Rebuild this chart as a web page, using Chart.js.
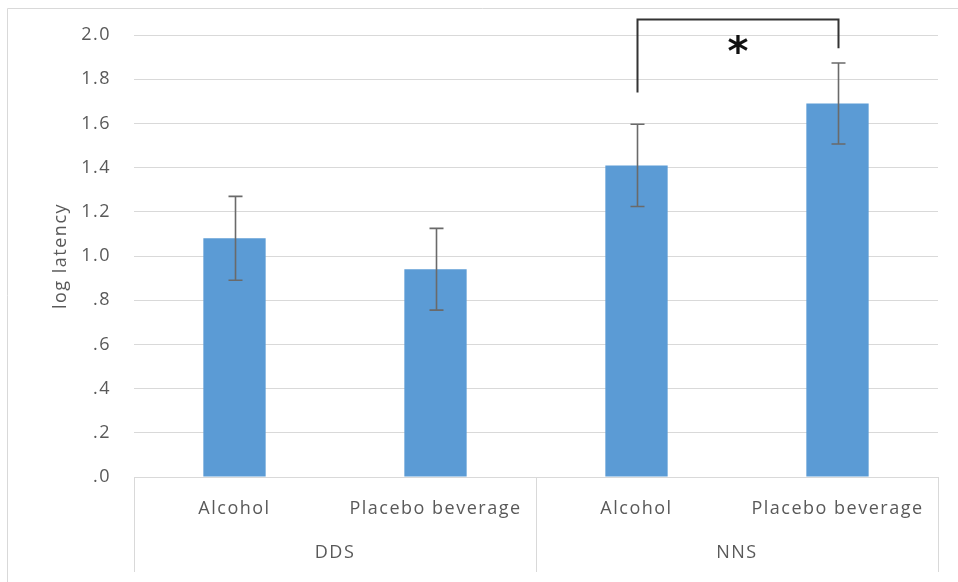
<!DOCTYPE html>
<html>
<head>
<meta charset="utf-8">
<script src="https://cdn.jsdelivr.net/npm/chart.js@4.4.1/dist/chart.umd.min.js"></script>
<style>
  html, body { margin: 0; padding: 0; background: #fff; }
  #wrap { width: 958px; height: 582px; }
</style>
</head>
<body>
<div id="wrap"><canvas id="latencyChart" width="958" height="582"></canvas></div>
<script>
const groupLabels = ['DDS', 'NNS'];
const conditionLabels = ['Alcohol', 'Placebo beverage', 'Alcohol', 'Placebo beverage'];
const meanLatency = [1.08, 0.94, 1.41, 1.69];
const errLatency = [0.19, 0.185, 0.186, 0.183];

// significance bracket between the two NNS bars
const sigPair = [2, 3];
const sigLegEnds = [1.74, 1.94];
const sigTop = 2.07;
const sigLabel = '*';

const textGrey = '#595959';
const gridGrey = '#d9d9d9';
const labelFont = { family: "'Open Sans', sans-serif", size: 18 };

const ctx = document.getElementById('latencyChart').getContext('2d');

const spacing = chart => { chart.ctx.letterSpacing = '1.5px'; };

const decorations = {
  id: 'decorations',
  beforeLayout: spacing,
  beforeDraw: chart => {
    const c = chart.ctx;
    spacing(chart);
    c.save();
    c.strokeStyle = gridGrey;
    c.lineWidth = 1;
    c.beginPath();
    c.moveTo(7.5, chart.height);
    c.lineTo(7.5, 8.5);
    c.lineTo(chart.width, 8.5);
    c.stroke();
    c.restore();
  },
  afterDatasetsDraw: chart => {
    const c = chart.ctx;
    const y = chart.scales.y;
    const bars = chart.getDatasetMeta(0).data;
    c.save();
    c.strokeStyle = '#6a6a6a';
    c.lineWidth = 1.6;
    bars.forEach((bar, i) => {
      const hi = y.getPixelForValue(meanLatency[i] + errLatency[i]);
      const lo = y.getPixelForValue(meanLatency[i] - errLatency[i]);
      const x = Math.round(bar.x) + 0.5;
      c.beginPath();
      c.moveTo(x, hi); c.lineTo(x, lo);
      c.moveTo(x - 7, hi); c.lineTo(x + 7, hi);
      c.moveTo(x - 7, lo); c.lineTo(x + 7, lo);
      c.stroke();
    });
    c.restore();
  },
  afterDraw: chart => {
    const c = chart.ctx;
    const x = chart.scales.x;
    const x2 = chart.scales.x2;
    const y = chart.scales.y;
    const area = chart.chartArea;
    c.save();

    // group separators of the two-level category axis
    c.strokeStyle = gridGrey;
    c.lineWidth = 1;
    const mid = (x.getPixelForTick(1) + x.getPixelForTick(2)) / 2;
    [x.left, mid, x.right].forEach(px => {
      const lx = Math.round(px) + 0.5;
      c.beginPath();
      c.moveTo(lx, area.bottom);
      c.lineTo(lx, x2.bottom);
      c.stroke();
    });

    // significance bracket
    const bars = chart.getDatasetMeta(0).data;
    const xa = Math.round(bars[sigPair[0]].x) + 0.5;
    const xb = Math.round(bars[sigPair[1]].x) + 0.5;
    const top = y.getPixelForValue(sigTop);
    c.strokeStyle = '#333333';
    c.lineWidth = 2;
    c.beginPath();
    c.moveTo(xa, y.getPixelForValue(sigLegEnds[0]));
    c.lineTo(xa, top);
    c.lineTo(xb, top);
    c.lineTo(xb, y.getPixelForValue(sigLegEnds[1]));
    c.stroke();

    c.letterSpacing = '0px';
    c.fillStyle = '#111111';
    c.font = "bold 40px 'DejaVu Sans'";
    c.textAlign = 'center';
    c.textBaseline = 'alphabetic';
    const m = c.measureText(sigLabel);
    const cy = y.getPixelForValue(sigTop - 0.11);
    const base = cy + (m.actualBoundingBoxAscent - m.actualBoundingBoxDescent) / 2;
    c.fillText(sigLabel, (xa + xb) / 2, base);
    c.restore();
  }
};

const config = {
  type: 'bar',
  data: {
    labels: conditionLabels,
    datasets: [
      {
        label: 'log latency',
        data: meanLatency,
        backgroundColor: '#5b9bd5',
        borderWidth: 0,
        categoryPercentage: 1,
        barPercentage: 0.31,
        xAxisID: 'x'
      }
    ]
  },
  options: {
    responsive: false,
    animation: false,
    devicePixelRatio: 1,
    layout: {
      padding: { left: 0, top: 35, right: 20, bottom: 10 }
    },
    plugins: {
      legend: { display: false },
      tooltip: { enabled: false }
    },
    scales: {
      y: {
        min: 0,
        max: 2,
        afterFit: s => { s.width = 134; },
        border: { display: false },
        grid: { color: gridGrey, drawTicks: false },
        ticks: {
          stepSize: 0.2,
          color: textGrey,
          font: labelFont,
          padding: 23,
          callback: v => v.toFixed(1).replace(/^0/, '')
        },
        title: {
          display: true,
          text: 'log latency',
          color: textGrey,
          font: labelFont,
          padding: { top: 50, bottom: 0 }
        }
      },
      x: {
        type: 'category',
        position: 'bottom',
        offset: true,
        afterFit: s => { s.height = 51; },
        border: { color: gridGrey },
        grid: { display: false },
        ticks: {
          color: textGrey,
          font: labelFont,
          padding: 13,
          autoSkip: false,
          maxRotation: 0
        }
      },
      x2: {
        type: 'category',
        position: 'bottom',
        labels: groupLabels,
        offset: true,
        afterFit: s => { s.height = 44; },
        border: { display: false },
        grid: { display: false },
        ticks: {
          color: textGrey,
          font: labelFont,
          padding: 6,
          autoSkip: false,
          maxRotation: 0
        }
      }
    }
  },
  plugins: [decorations]
};

const latencyChart = new Chart(ctx, config);
</script>
</body>
</html>
